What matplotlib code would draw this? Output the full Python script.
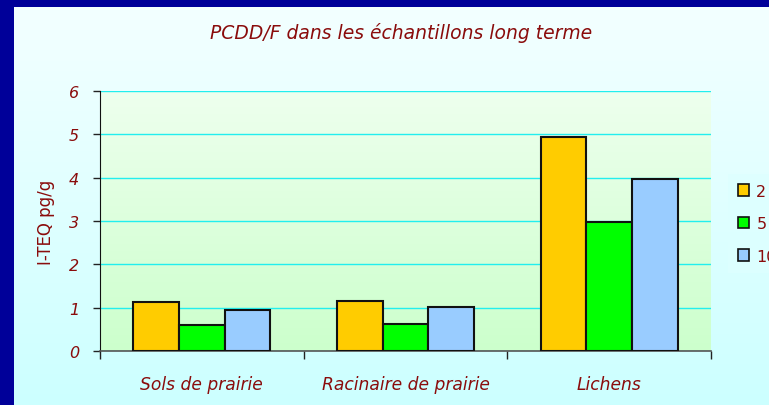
import numpy as np
import matplotlib.pyplot as plt
from matplotlib.patches import Patch, Rectangle
from matplotlib.colors import LinearSegmentedColormap

categories = ["Sols de prairie", "Racinaire de prairie", "Lichens"]
series_labels = ["2", "5", "10"]
values_2 = [1.12, 1.15, 4.95]
values_5 = [0.59, 0.63, 2.98]
values_10 = [0.95, 1.01, 3.97]
y_ticks = [0, 1, 2, 3, 4, 5, 6]

series = [values_2, values_5, values_10]
colors = ["#FFCC00", "#00FF00", "#99CCFF"]
text_color = "#8A0C0C"

plt.rcParams["font.family"] = ["DejaVu Sans"]

fig = plt.figure(figsize=(7.69, 4.06), dpi=100)

# figure background: vertical gradient
bg = fig.add_axes([0, 0, 1, 1], zorder=-10)
bg_cmap = LinearSegmentedColormap.from_list("bg", ["#CCFFFF", "#F4FFFF"])
bg.imshow(np.linspace(0, 1, 256).reshape(-1, 1), cmap=bg_cmap, aspect="auto",
          origin="lower", extent=[0, 1, 0, 1])
bg.set_xlim(0, 1)
bg.set_ylim(0, 1)
bg.axis("off")
# navy frame on top and left
bg.add_patch(Rectangle((0, 1 - 8 / 406), 1, 8 / 406, color="#000099", lw=0))
bg.add_patch(Rectangle((0, 0), 14 / 769, 1, color="#000099", lw=0))

ax = fig.add_axes([100 / 769, 54 / 406, 611 / 769, 260 / 406])
ax.set_xlim(-0.5, len(categories) - 0.5)
ax.set_ylim(0, 6)

plot_cmap = LinearSegmentedColormap.from_list("plot", ["#CCFFCC", "#EEFFEE"])
ax.imshow(np.linspace(0, 1, 256).reshape(-1, 1), cmap=plot_cmap, aspect="auto",
          origin="lower", extent=[-0.5, len(categories) - 0.5, 0, 6], zorder=0)

x = np.arange(len(categories))
width = 0.224
for i, (vals, col, lab) in enumerate(zip(series, colors, series_labels)):
    ax.bar(x + (i - 1) * width, vals, width, color=col, edgecolor="#111111",
           linewidth=1.5, label=lab, zorder=3)

ax.set_yticks(y_ticks)
ax.set_yticklabels([str(t) for t in y_ticks], style="italic", fontsize=11.5,
                   color=text_color)
ax.grid(axis="y", color="#22EEEE", linewidth=1, zorder=1)
ax.tick_params(axis="y", length=5, width=1, pad=10, color="#222222")

ax.set_xticks(np.arange(len(categories) + 1) - 0.5)
ax.set_xticklabels([])
ax.set_xticks(x, minor=True)
ax.set_xticklabels(categories, minor=True, style="italic", fontsize=12.3,
                   color=text_color)
ax.tick_params(axis="x", which="major", length=6, width=1, color="#222222")
ax.tick_params(axis="x", which="minor", length=0, pad=17)

for side in ["top", "right"]:
    ax.spines[side].set_visible(False)
ax.spines["left"].set_color("#111111")
ax.spines["bottom"].set_color("#555555")
ax.spines["bottom"].set_linewidth(1.2)

ax.set_ylabel("I-TEQ pg/g", fontsize=12, color=text_color)
ax.yaxis.set_label_coords(-0.074, 0.5)

fig.text(0.522, 0.919, "PCDD/F dans les échantillons long terme",
         ha="center", va="center", style="italic", fontsize=13.5,
         color=text_color)

handles = [Patch(facecolor=c, edgecolor="#111111", linewidth=1.2)
           for c in colors]
leg = fig.legend(handles, series_labels, loc="upper left",
                 bbox_to_anchor=(728 / 769, 1 - 175 / 406), frameon=True,
                 fontsize=11.5, handlelength=0.72, handleheight=0.72,
                 handletextpad=0.45, labelspacing=1.1, borderpad=0.6,
                 borderaxespad=0, fancybox=False)
leg.get_frame().set_facecolor("#DDFFFF")
leg.get_frame().set_edgecolor("none")
for t in leg.get_texts():
    t.set_color(text_color)

fig.savefig("out.png", dpi=100)
